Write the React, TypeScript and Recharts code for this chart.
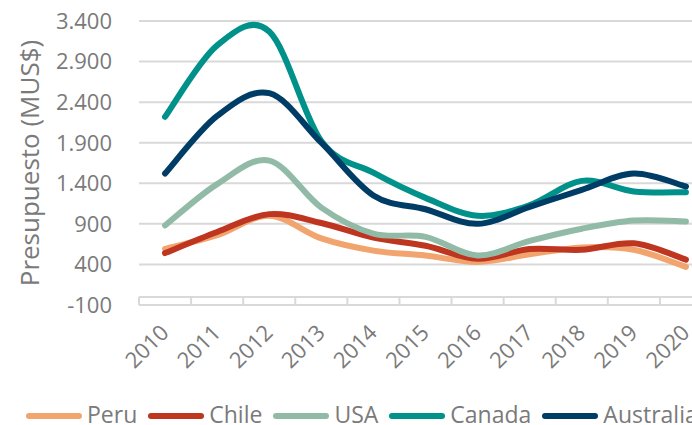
import React from 'react';
import { LineChart, Line, XAxis, YAxis, CartesianGrid, ReferenceLine, Legend } from 'recharts';

const years = ['2010', '2011', '2012', '2013', '2014', '2015', '2016', '2017', '2018', '2019', '2020'];
const peru = [590, 760, 1000, 720, 570, 510, 430, 525, 610, 580, 370];
const chile = [540, 800, 1020, 910, 730, 630, 470, 590, 580, 660, 460];
const usa = [880, 1390, 1680, 1100, 780, 740, 510, 690, 840, 940, 930];
const canada = [2220, 3100, 3270, 1920, 1530, 1220, 1000, 1130, 1430, 1300, 1290];
const australia = [1520, 2230, 2510, 1900, 1250, 1080, 900, 1110, 1320, 1520, 1360];
const yTicks = [-100, 400, 900, 1400, 1900, 2400, 2900, 3400];

const seriesList = [
  { key: 'peru', name: 'Peru', color: '#F2A46F' },
  { key: 'chile', name: 'Chile', color: '#BE3520' },
  { key: 'usa', name: 'USA', color: '#92BBA7' },
  { key: 'canada', name: 'Canada', color: '#00918A' },
  { key: 'australia', name: 'Australia', color: '#003D66' },
];

const data = years.map((y, i) => ({
  i,
  year: y,
  peru: peru[i],
  chile: chile[i],
  usa: usa[i],
  canada: canada[i],
  australia: australia[i],
}));

const xTickIdx = years.map((_, i) => i);
const boundaries = [...years.map((_, i) => i - 0.5), years.length - 0.5];

const FONT = '"Open Sans", sans-serif';
const GRAY = '#7a7a7a';
const GRID = '#d9d9d9';

// Excel-like smoothing (Catmull-Rom as cubic Bezier)
function smoothCurve(context: any) {
  let pts: number[][] = [];
  return {
    areaStart() {},
    areaEnd() {},
    lineStart() {
      pts = [];
    },
    point(x: number, y: number) {
      pts.push([+x, +y]);
    },
    lineEnd() {
      const n = pts.length;
      if (!n) return;
      context.moveTo(pts[0][0], pts[0][1]);
      for (let k = 0; k < n - 1; k++) {
        const p0 = pts[k - 1] || pts[k];
        const p1 = pts[k];
        const p2 = pts[k + 1];
        const p3 = pts[k + 2] || p2;
        context.bezierCurveTo(
          p1[0] + (p2[0] - p0[0]) / 6,
          p1[1] + (p2[1] - p0[1]) / 6,
          p2[0] - (p3[0] - p1[0]) / 6,
          p2[1] - (p3[1] - p1[1]) / 6,
          p2[0],
          p2[1]
        );
      }
    },
  };
}

const fmt = (v: number) => {
  const s = Math.abs(v).toString().replace(/\B(?=(\d{3})+(?!\d))/g, '.');
  return (v < 0 ? '-' : '') + s;
};

const XTick = (props: any) => {
  const { x, y, payload } = props;
  const ax = x + 5;
  const ay = y + 29;
  return (
    <text x={ax} y={ay} transform={`rotate(-45 ${ax} ${ay})`} textAnchor="end" fill={GRAY} fontSize={22} fontFamily={FONT}>
      {years[payload.value]}
    </text>
  );
};

const YTitle = (props: any) => {
  const vb = props.viewBox || { x: 0, y: 21, width: 139, height: 284 };
  const cx = 39;
  const cy = vb.y + vb.height / 2;
  return (
    <text x={cx} y={cy} transform={`rotate(-90 ${cx} ${cy})`} textAnchor="middle" fill={GRAY} fontSize={26} fontFamily={FONT}>
      Presupuesto (MUS$)
    </text>
  );
};

const LegendContent = () => (
  <div style={{ height: 30, display: 'flex', alignItems: 'center', paddingLeft: 26, fontFamily: FONT, fontSize: 23, color: GRAY, whiteSpace: 'nowrap' }}>
    {seriesList.map((s) => (
      <div key={s.key} style={{ display: 'flex', alignItems: 'center', marginRight: 11 }}>
        <span style={{ display: 'inline-block', width: 56, height: 6, borderRadius: 3, background: s.color, marginRight: 5 }} />
        <span style={{ position: 'relative', top: -2, lineHeight: '20px' }}>{s.name}</span>
      </div>
    ))}
  </div>
);

export default function App() {
  return (
    <div style={{ position: 'absolute', left: 0, top: 0, width: 692, height: 425, overflow: 'hidden', background: '#fff' }}>
      <LineChart width={740} height={425} data={data} margin={{ top: 21, right: 28, left: 0, bottom: 30 }}>
        <CartesianGrid horizontal vertical={false} stroke={GRID} strokeWidth={2} />
        <XAxis
          dataKey="i"
          type="number"
          domain={[-0.5, years.length - 0.5]}
          ticks={xTickIdx}
          interval={0}
          axisLine={false}
          tickLine={false}
          tickSize={0}
          tickMargin={0}
          height={60}
          tick={<XTick />}
        />
        <YAxis
          type="number"
          domain={[-100, 3400]}
          ticks={yTicks}
          interval={0}
          width={139}
          axisLine={false}
          tickLine={false}
          tickSize={0}
          tickMargin={27}
          tickFormatter={fmt}
          tick={{ fill: GRAY, fontSize: 22, fontFamily: FONT }}
          label={{ content: <YTitle /> }}
        />
        <ReferenceLine y={0} stroke={GRID} strokeWidth={2} />
        {boundaries.map((b) => (
          <ReferenceLine
            key={b}
            segment={[{ x: b, y: -100 }, { x: b, y: 0 }]}
            stroke={GRID}
            strokeWidth={2}
          />
        ))}
        <Legend
          verticalAlign="bottom"
          content={<LegendContent />}
          wrapperStyle={{ top: 401, bottom: 'auto', left: 0, width: 740 }}
        />
        {seriesList.map((s) => (
          <Line
            key={s.key}
            dataKey={s.key}
            name={s.name}
            type={smoothCurve as any}
            stroke={s.color}
            strokeWidth={6}
            strokeLinecap="round"
            dot={false}
            activeDot={false}
            isAnimationActive={false}
          />
        ))}
      </LineChart>
    </div>
  );
}
